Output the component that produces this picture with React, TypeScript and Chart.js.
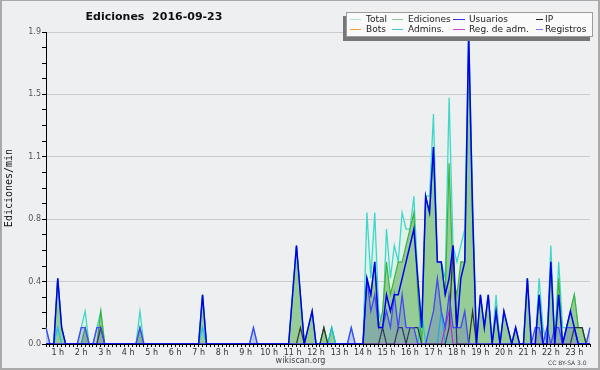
import React, { useEffect, useRef } from 'react';
import { Chart, registerables } from 'chart.js';

Chart.register(...registerables);

// 10-minute bins from 00:00 to 23:10
const BIN_COUNT = 140;
const timeLabels: string[] = Array.from({ length: BIN_COUNT }, (_, i) =>
  `${String(Math.floor(i / 6)).padStart(2, '0')}:${String((i % 6) * 10).padStart(2, '0')}`
);
const hourLabels = ['1 h', '2 h', '3 h', '4 h', '5 h', '6 h', '7 h', '8 h', '9 h', '10 h', '11 h', '12 h',
  '13 h', '14 h', '15 h', '16 h', '17 h', '18 h', '19 h', '20 h', '21 h', '22 h', '23 h'];
const yTickLabels = ['0.0', '0.4', '0.8', '1.1', '1.5', '1.9'];
const Y_MAX = 1.9;

// edits per minute, one row per hour (6 bins of 10 min)
const total = [
  0.1, 0, 0, 0.4, 0.1, 0,
  0, 0, 0, 0.1, 0.2, 0,
  0, 0.1, 0.2, 0, 0, 0,
  0, 0, 0, 0, 0, 0,
  0.2, 0, 0, 0, 0, 0,
  0, 0, 0, 0, 0, 0,
  0, 0, 0, 0, 0.3, 0,
  0, 0, 0, 0, 0, 0,
  0, 0, 0, 0, 0, 0.1,
  0, 0, 0, 0, 0, 0,
  0, 0, 0, 0.3, 0.6, 0.3,
  0, 0.1, 0.2, 0, 0, 0.1,
  0, 0.1, 0, 0, 0, 0,
  0.1, 0, 0, 0, 0.8, 0.4,
  0.8, 0.2, 0.1, 0.7, 0.4, 0.6,
  0.5, 0.8, 0.7, 0.7, 0.9, 0.4,
  0.1, 0.9, 0.9, 1.4, 0.5, 0.5,
  0.4, 1.5, 0.6, 0.5, 0.6, 0.7,
  1.9, 0.9, 0, 0.3, 0.1, 0.3,
  0, 0.3, 0, 0.2, 0.1, 0,
  0.1, 0, 0, 0.4, 0, 0,
  0.4, 0.1, 0, 0.6, 0, 0.5,
  0.1, 0.1, 0.2, 0.3, 0.1, 0.1,
  0, 0.1,
];
const ediciones = [
  0, 0, 0, 0.4, 0.1, 0,
  0, 0, 0, 0, 0.1, 0,
  0, 0, 0.2, 0, 0, 0,
  0, 0, 0, 0, 0, 0,
  0.1, 0, 0, 0, 0, 0,
  0, 0, 0, 0, 0, 0,
  0, 0, 0, 0, 0.3, 0,
  0, 0, 0, 0, 0, 0,
  0, 0, 0, 0, 0, 0,
  0, 0, 0, 0, 0, 0,
  0, 0, 0, 0.3, 0.6, 0.3,
  0, 0.1, 0.2, 0, 0, 0.1,
  0, 0.1, 0, 0, 0, 0,
  0, 0, 0, 0, 0.4, 0.3,
  0.5, 0.1, 0.2, 0.5, 0.3, 0.4,
  0.5, 0.5, 0.6, 0.7, 0.8, 0.3,
  0, 0.9, 0.8, 1.2, 0.5, 0.5,
  0.3, 1.1, 0.4, 0.3, 0.5, 0.5,
  1.8, 0.8, 0, 0.3, 0.1, 0.3,
  0, 0.2, 0, 0.2, 0.1, 0,
  0.1, 0, 0, 0.4, 0, 0,
  0.3, 0, 0, 0.5, 0, 0.4,
  0, 0.1, 0.2, 0.3, 0.1, 0.1,
  0, 0,
];
const usuarios = [
  0, 0, 0, 0.4, 0.1, 0,
  0, 0, 0, 0, 0, 0,
  0, 0, 0, 0, 0, 0,
  0, 0, 0, 0, 0, 0,
  0, 0, 0, 0, 0, 0,
  0, 0, 0, 0, 0, 0,
  0, 0, 0, 0, 0.3, 0,
  0, 0, 0, 0, 0, 0,
  0, 0, 0, 0, 0, 0,
  0, 0, 0, 0, 0, 0,
  0, 0, 0, 0.3, 0.6, 0.3,
  0, 0.1, 0.2, 0, 0, 0,
  0, 0, 0, 0, 0, 0,
  0, 0, 0, 0, 0.4, 0.3,
  0.5, 0.1, 0.1, 0.3, 0.2, 0.3,
  0.3, 0.4, 0.5, 0.6, 0.7, 0.4,
  0.1, 0.9, 0.8, 1.2, 0.5, 0.5,
  0.3, 0.4, 0.6, 0.1, 0.4, 0.5,
  1.9, 0.8, 0, 0.3, 0.1, 0.3,
  0, 0.2, 0, 0.2, 0.1, 0,
  0.1, 0, 0, 0.4, 0, 0,
  0.3, 0, 0, 0.5, 0, 0.3,
  0, 0.1, 0.2, 0.1, 0, 0,
  0, 0,
];
const ip = [
  0, 0, 0, 0, 0, 0,
  0, 0, 0, 0, 0, 0,
  0, 0, 0.1, 0, 0, 0,
  0, 0, 0, 0, 0, 0,
  0, 0, 0, 0, 0, 0,
  0, 0, 0, 0, 0, 0,
  0, 0, 0, 0, 0, 0,
  0, 0, 0, 0, 0, 0,
  0, 0, 0, 0, 0, 0,
  0, 0, 0, 0, 0, 0,
  0, 0, 0, 0, 0, 0.1,
  0, 0, 0, 0, 0, 0.1,
  0, 0, 0, 0, 0, 0,
  0, 0, 0, 0, 0, 0,
  0, 0, 0.1, 0, 0, 0,
  0.1, 0.1, 0, 0.1, 0.1, 0.1,
  0, 0, 0, 0, 0, 0,
  0, 0.1, 0.6, 0, 0, 0,
  0, 0.2, 0, 0, 0, 0,
  0, 0, 0, 0, 0, 0,
  0, 0, 0, 0, 0, 0,
  0, 0, 0, 0, 0, 0,
  0, 0, 0, 0.1, 0.1, 0.1,
  0, 0,
];
const bots = [
  0, 0, 0, 0, 0, 0, 0, 0, 0, 0, 0, 0, 0, 0, 0, 0, 0, 0, 0, 0, 0, 0, 0, 0,
  0, 0, 0, 0, 0, 0, 0, 0, 0, 0, 0, 0, 0, 0, 0, 0, 0, 0, 0, 0, 0, 0, 0, 0,
  0, 0, 0, 0, 0, 0, 0, 0, 0, 0, 0, 0, 0, 0, 0, 0, 0, 0, 0, 0, 0, 0, 0, 0,
  0, 0, 0, 0, 0, 0, 0, 0, 0, 0, 0, 0, 0, 0, 0, 0, 0, 0, 0, 0, 0, 0, 0, 0,
  0, 0, 0, 0, 0, 0, 0, 0, 0, 0, 0, 0, 0, 0, 0, 0, 0, 0, 0, 0, 0, 0, 0, 0,
  0, 0, 0, 0, 0, 0, 0, 0, 0, 0, 0, 0, 0, 0, 0, 0, 0, 0, 0, 0,
];
const admins = [
  0, 0, 0, 0.1, 0, 0,
  0, 0, 0, 0, 0, 0,
  0, 0, 0, 0, 0, 0,
  0, 0, 0, 0, 0, 0,
  0, 0, 0, 0, 0, 0,
  0, 0, 0, 0, 0, 0,
  0, 0, 0, 0, 0.1, 0,
  0, 0, 0, 0, 0, 0,
  0, 0, 0, 0, 0, 0,
  0, 0, 0, 0, 0, 0,
  0, 0, 0, 0, 0, 0,
  0, 0, 0, 0, 0, 0,
  0, 0.1, 0, 0, 0, 0,
  0, 0, 0, 0, 0, 0,
  0, 0, 0, 0, 0, 0,
  0, 0, 0, 0, 0, 0,
  0.2, 0, 0, 0, 0, 0.2,
  0, 0, 0, 0, 0, 0,
  0, 0, 0, 0, 0, 0,
  0, 0, 0, 0, 0, 0,
  0, 0, 0, 0, 0, 0,
  0, 0, 0, 0, 0, 0,
  0, 0, 0, 0, 0, 0,
  0, 0,
];
const regAdm = [
  0, 0, 0, 0, 0, 0, 0, 0, 0, 0, 0, 0, 0, 0, 0, 0, 0, 0, 0, 0, 0, 0, 0, 0,
  0, 0, 0, 0, 0, 0, 0, 0, 0, 0, 0, 0, 0, 0, 0, 0, 0, 0, 0, 0, 0, 0, 0, 0,
  0, 0, 0, 0, 0, 0, 0, 0, 0, 0, 0, 0, 0, 0, 0, 0, 0, 0, 0, 0, 0, 0, 0, 0,
  0, 0, 0, 0, 0, 0, 0, 0, 0, 0, 0, 0, 0, 0, 0, 0, 0, 0, 0, 0, 0, 0, 0, 0,
  0, 0, 0, 0, 0, 0, 0.1, 0.2, 0, 0, 0, 0, 0, 0, 0, 0, 0, 0, 0, 0, 0, 0, 0, 0,
  0, 0, 0, 0, 0, 0, 0, 0, 0, 0, 0, 0, 0, 0, 0, 0, 0, 0, 0, 0,
];
const registros = [
  0.1, 0, 0, 0, 0, 0,
  0, 0, 0, 0.1, 0.1, 0,
  0, 0.1, 0.1, 0, 0, 0,
  0, 0, 0, 0, 0, 0,
  0.1, 0, 0, 0, 0, 0,
  0, 0, 0, 0, 0, 0,
  0, 0, 0, 0, 0, 0,
  0, 0, 0, 0, 0, 0,
  0, 0, 0, 0, 0, 0.1,
  0, 0, 0, 0, 0, 0,
  0, 0, 0, 0, 0, 0,
  0, 0, 0, 0, 0, 0,
  0, 0, 0, 0, 0, 0,
  0.1, 0, 0, 0, 0.4, 0.2,
  0.3, 0.1, 0.1, 0.2, 0.1, 0.3,
  0.1, 0.3, 0.1, 0.1, 0.1, 0,
  0, 0, 0.1, 0.2, 0.4, 0.2,
  0.1, 0.3, 0.1, 0.1, 0.1, 0.2,
  0, 0, 0, 0, 0, 0,
  0, 0, 0, 0, 0, 0,
  0, 0, 0, 0, 0, 0.1,
  0.1, 0, 0.1, 0, 0.1, 0.1,
  0, 0.1, 0.1, 0.1, 0, 0,
  0, 0.1,
];

const legendItems = [
  { label: 'Total', color: '#a6e6dd', col: 0, row: 0 },
  { label: 'Ediciones', color: '#86cc86', col: 1, row: 0 },
  { label: 'Usuarios', color: '#3434e0', col: 2, row: 0 },
  { label: 'IP', color: '#222222', col: 3, row: 0 },
  { label: 'Bots', color: '#f0a040', col: 0, row: 1 },
  { label: 'Admins.', color: '#40c8e0', col: 1, row: 1 },
  { label: 'Reg. de adm.', color: '#d040d0', col: 2, row: 1 },
  { label: 'Registros', color: '#7474f2', col: 3, row: 1 },
];
const legendCols = [
  { sx: 350, sw: 11, tx: 366 },
  { sx: 392, sw: 11, tx: 408 },
  { sx: 453, sw: 12, tx: 469 },
  { sx: 536, sw: 7, tx: 545 },
];
const legendRows = [19.5, 29.5];

const BG = '#eeeff1';

export default function App() {
  const canvasRef = useRef<HTMLCanvasElement | null>(null);

  useEffect(() => {
    document.body.style.margin = '0';
    const canvas = canvasRef.current;
    if (!canvas) return;
    const line = (label: string, data: number[], color: string, width: number, fill: any = false, bg: string = 'transparent') => ({
      label,
      data,
      borderColor: color,
      borderWidth: width,
      backgroundColor: bg,
      fill,
      pointRadius: 0,
      tension: 0,
    });
    const chart = new Chart(canvas, {
      type: 'line',
      data: {
        labels: timeLabels,
        datasets: [
          line('Usuarios', usuarios, '#0000f0', 1.5),
          line('Registros', registros, '#4646f4', 1.3, 'origin', 'rgba(70,70,225,0.22)'),
          line('IP', ip, '#333333', 1.2),
          line('Reg. de adm.', regAdm, '#d030d0', 1.2),
          line('Admins.', admins, '#1cc4e4', 1.2),
          line('Bots', bots, '#f0a030', 1.2),
          line('Ediciones', ediciones, '#3cb43c', 1.2, 'origin', '#96cc96'),
          line('Total', total, '#3ed8c8', 1.3, 'origin', '#def2ec'),
        ],
      },
      options: {
        responsive: false,
        animation: false,
        devicePixelRatio: 1,
        layout: { padding: { top: 32, right: 10, left: 0, bottom: 0 } },
        plugins: {
          legend: { display: false },
          title: { display: false },
          tooltip: { enabled: false },
        },
        scales: {
          x: {
            type: 'category',
            offset: false,
            z: 1,
            afterFit: (s: any) => { s.height = 26; },
            grid: { drawOnChartArea: false, tickLength: 3, tickColor: '#000', offset: false },
            border: { color: '#000', width: 1 },
            ticks: {
              autoSkip: false,
              maxRotation: 0,
              minRotation: 0,
              padding: 1,
              color: '#333',
              font: { family: 'DejaVu Sans', size: 8 },
              callback: (_v: any, i: number) => (i % 6 === 3 ? hourLabels[(i - 3) / 6] : ''),
            },
          },
          y: {
            type: 'linear',
            min: 0,
            max: Y_MAX,
            afterFit: (s: any) => { s.width = 46; },
            afterBuildTicks: (s: any) => {
              s.ticks = Array.from({ length: 21 }, (_, k) => ({ value: Math.round(k * 95) / 1000 }));
            },
            grid: {
              color: (ctx: any) => (ctx.index % 4 === 0 && ctx.index > 0 ? '#cbcbcb' : 'rgba(0,0,0,0)'),
              tickColor: '#000',
              tickLength: 4,
              lineWidth: 1,
            },
            border: { color: '#000', width: 1 },
            ticks: {
              padding: 1,
              color: '#555',
              font: { family: 'DejaVu Sans', size: 8 },
              callback: (_v: any, i: number) => (i % 4 === 0 ? yTickLabels[i / 4] : ''),
            },
            title: {
              display: true,
              text: 'Ediciones/min',
              color: '#111',
              font: { family: 'DejaVu Sans Mono', size: 10 },
              padding: { top: 3, bottom: 2 },
            },
          },
        },
      },
    });
    return () => chart.destroy();
  }, []);

  const font = "'DejaVu Sans', sans-serif";
  return (
    <div style={{ position: 'relative', width: 600, height: 370, background: BG, overflow: 'hidden', fontFamily: font }}>
      <canvas ref={canvasRef} width={600} height={370} style={{ position: 'absolute', left: 0, top: 0, width: 600, height: 370 }} />
      <div style={{ position: 'absolute', left: 154, top: 10, transform: 'translateX(-50%)', font: `bold 11px ${font}`, lineHeight: '13px', whiteSpace: 'pre', color: '#111' }}>
        {'Ediciones  2016-09-23'}
      </div>
      <div style={{ position: 'absolute', left: 346, top: 12, width: 247, height: 25, boxSizing: 'border-box', background: '#fafafa', border: '1px solid #9c9c9c', boxShadow: '-3px 4px 0 #777' }} />
      {legendItems.map((it) => {
        const c = legendCols[it.col];
        const y = legendRows[it.row];
        return (
          <React.Fragment key={it.label}>
            <div style={{ position: 'absolute', left: c.sx, top: Math.round(y) - 1, width: c.sw, height: 1.4, background: it.color }} />
            <div style={{ position: 'absolute', left: c.tx, top: y - 5.5, font: `9px ${font}`, lineHeight: '10px', color: '#222', whiteSpace: 'pre' }}>
              {it.label}
            </div>
          </React.Fragment>
        );
      })}
      <div style={{ position: 'absolute', left: 300.5, top: 356, transform: 'translateX(-50%)', font: `8px ${font}`, lineHeight: '10px', color: '#444', whiteSpace: 'pre' }}>
        wikiscan.org
      </div>
      <div style={{ position: 'absolute', left: 548, top: 359, font: `6px ${font}`, lineHeight: '7px', color: '#444', whiteSpace: 'pre' }}>
        CC BY-SA 3.0
      </div>
      <div style={{ position: 'absolute', left: 0, top: 0, width: 600, height: 370, boxSizing: 'border-box', borderStyle: 'solid', borderColor: '#aaaaaa', borderWidth: '1px 2px 2px 2px', pointerEvents: 'none' }} />
    </div>
  );
}
